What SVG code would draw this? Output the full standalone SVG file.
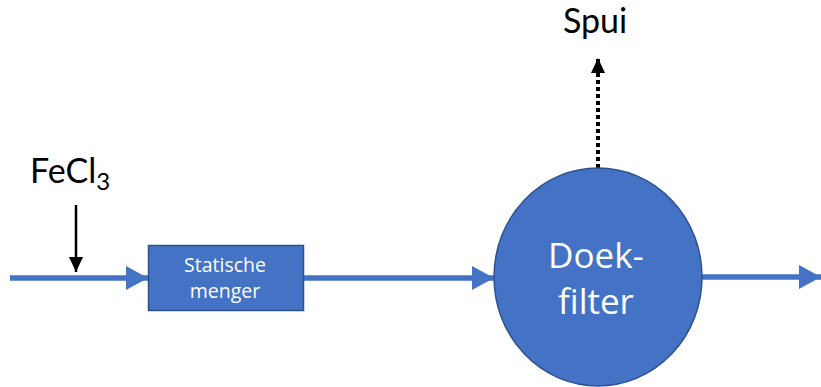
<svg xmlns="http://www.w3.org/2000/svg" width="821" height="387" viewBox="0 0 821 387">
<defs>
<style>
.flow{stroke:#4472C4;stroke-width:5.5;fill:none}
.lbl{font-family:Lato,"Open Sans",sans-serif;fill:#000}
.wl{font-family:"Open Sans",Lato,sans-serif;fill:#fff;text-anchor:middle}
</style>
<marker id="ab" markerUnits="userSpaceOnUse" markerWidth="24" markerHeight="24" refX="22" refY="12" orient="auto"><path d="M0,0 L22,12 L0,24 Z" fill="#4472C4"/></marker>
<marker id="ak" markerUnits="userSpaceOnUse" markerWidth="16" markerHeight="16" refX="15" refY="7" orient="auto"><path d="M0,0 L15,7 L0,14 Z" fill="#000"/></marker>
</defs>
<g id="connectors">
<line class="flow" x1="10" y1="278" x2="148" y2="278" marker-end="url(#ab)"/>
<line class="flow" x1="303" y1="278" x2="494" y2="278" marker-end="url(#ab)"/>
<line class="flow" x1="702" y1="277" x2="821" y2="277" marker-end="url(#ab)"/>
<line x1="76" y1="205" x2="76" y2="272" stroke="#000" stroke-width="2.5" marker-end="url(#ak)"/>
<line x1="598" y1="168" x2="598" y2="58" stroke="#000" stroke-width="4" stroke-dasharray="4 3" marker-end="url(#ak)"/>
</g>
<g id="fecl3">
<text class="lbl" x="30" y="183" font-size="34">FeCl<tspan font-size="24" dy="7">3</tspan></text>
</g>
<g id="spui">
<text class="lbl" x="595" y="33" font-size="34" text-anchor="middle">Spui</text>
</g>
<g id="statische-menger">
<rect x="148.5" y="245.5" width="155" height="65" fill="#4472C4" stroke="#2F528F" stroke-width="1.5"/>
<text class="wl" x="225" y="272" font-size="19.5">Statische</text>
<text class="wl" x="225" y="298" font-size="19.5">menger</text>
</g>
<g id="doekfilter">
<ellipse cx="598" cy="277" rx="104" ry="109" fill="#4472C4" stroke="#2F528F" stroke-width="1.5"/>
<text class="wl" x="596" y="268" font-size="35" font-family="Lato,sans-serif">Doek-</text>
<text class="wl" x="596" y="314" font-size="35" font-family="Lato,sans-serif">filter</text>
</g>
</svg>
